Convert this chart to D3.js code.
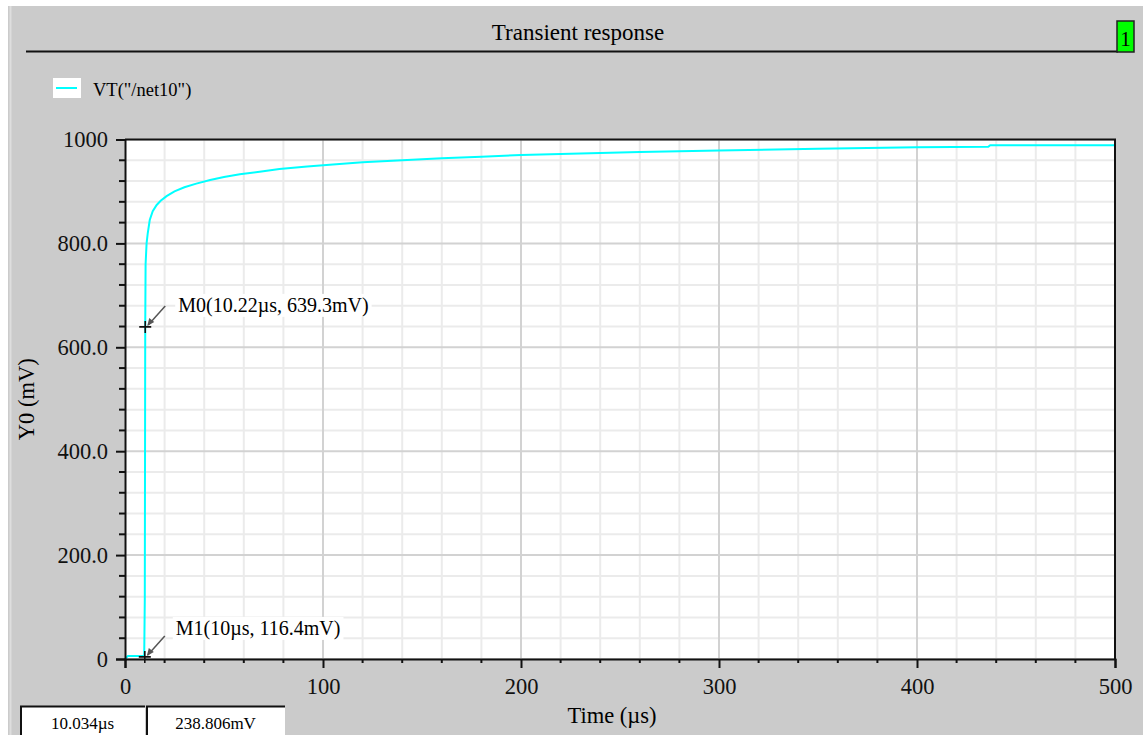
<!DOCTYPE html>
<html>
<head>
<meta charset="utf-8">
<script src="https://cdn.jsdelivr.net/npm/d3@7"></script>
<style>
  body { margin: 0; background: #fff; }
  svg { display: block; font-family: "Liberation Serif", "Times New Roman", serif; }
</style>
</head>
<body>
<svg id="chart"></svg>
<script>
// waveform samples of VT("/net10")
const timeUs = [0, 1.5, 9.7, 10.0, 10.22, 10.4, 10.9, 11.5, 12.5, 14, 16, 18, 21, 25, 30, 36, 43, 50, 58, 68, 78, 92, 105, 120, 140, 160, 180, 200, 230, 260, 300, 350, 400, 436, 437, 500];
const voltMv = [0, 6, 6, 116, 639, 760, 800, 820, 845, 862, 874, 882, 891, 900, 908, 915, 922, 928, 933, 938, 943, 948, 952, 956, 960, 964, 967, 970, 973, 976, 979, 982, 985, 986, 989, 989];

const xTickLabels = ['0', '100', '200', '300', '400', '500'];
const yTickLabels = ['0', '200.0', '400.0', '600.0', '800.0', '1000'];

const markerNames = ['M0', 'M1'];
const markerLabels = ['M0(10.22\u00b5s, 639.3mV)', 'M1(10\u00b5s, 116.4mV)'];
const markerX = [10.22, 10];
const markerY = [639.3, 4];

const cursorReadout = ['10.034\u00b5s', '238.806mV'];

class TransientChart {

    constructor(_config) {
        this.config = {
            parentElement: _config.parentElement,
            containerWidth: 1143,
            containerHeight: 735,
            margin: {top: 139.5, right: 28, bottom: 76, left: 125}
        }
        this.initVis();
    }

    initVis() {
        let vis = this;
        const c = vis.config;

        vis.width = c.containerWidth - c.margin.left - c.margin.right;
        vis.height = c.containerHeight - c.margin.top - c.margin.bottom;

        vis.svg = d3.select(c.parentElement)
            .attr('width', c.containerWidth)
            .attr('height', c.containerHeight);

        // window frame
        vis.svg.append('rect')
            .attr('x', 8).attr('y', 6)
            .attr('width', c.containerWidth - 8).attr('height', c.containerHeight - 6)
            .attr('fill', '#cbcbcb');
        vis.svg.append('line')
            .attr('x1', 10.5).attr('x2', 10.5).attr('y1', 6).attr('y2', c.containerHeight)
            .attr('stroke', '#dedede').attr('stroke-width', 2);

        // title + underline
        vis.svg.append('text')
            .attr('x', 578).attr('y', 40)
            .attr('text-anchor', 'middle')
            .attr('font-size', 23)
            .text('Transient response');
        vis.svg.append('line')
            .attr('x1', 26).attr('x2', 1118).attr('y1', 51.5).attr('y2', 51.5)
            .attr('stroke', '#111').attr('stroke-width', 2);

        // green subwindow tag
        vis.svg.append('rect')
            .attr('x', 1117).attr('y', 21).attr('width', 17).attr('height', 31)
            .attr('fill', '#00ff00').attr('stroke', '#222').attr('stroke-width', 1.5);
        vis.svg.append('text')
            .attr('x', 1125.5).attr('y', 46)
            .attr('text-anchor', 'middle').attr('font-size', 21)
            .text('1');

        // legend
        vis.svg.append('rect')
            .attr('x', 53).attr('y', 78).attr('width', 28).attr('height', 20)
            .attr('fill', '#fff');
        vis.svg.append('line')
            .attr('x1', 56).attr('x2', 77).attr('y1', 88).attr('y2', 88)
            .attr('stroke', '#00ffff').attr('stroke-width', 2);
        vis.svg.append('text')
            .attr('x', 93).attr('y', 96)
            .attr('font-size', 18.5)
            .text('VT("/net10")');

        vis.chart = vis.svg.append('g')
            .attr('transform', `translate(${c.margin.left},${c.margin.top})`);

        vis.xScale = d3.scaleLinear().domain([0, 500]).range([0, vis.width]);
        vis.yScale = d3.scaleLinear().domain([0, 1000]).range([vis.height, 0]);

        vis.chart.append('rect')
            .attr('width', vis.width).attr('height', vis.height)
            .attr('fill', '#fff');

        vis.gridG = vis.chart.append('g').attr('class', 'grid');
        vis.lineG = vis.chart.append('g').attr('class', 'wave');
        vis.frameG = vis.chart.append('g').attr('class', 'frame');
        vis.xAxisG = vis.chart.append('g')
            .attr('class', 'x-axis')
            .attr('transform', `translate(0,${vis.height})`);
        vis.yAxisG = vis.chart.append('g').attr('class', 'y-axis');
        vis.markerG = vis.chart.append('g').attr('class', 'markers');

        vis.updateVis();
    }

    updateVis() {
        let vis = this;
        vis.data = timeUs.map((t, i) => ({t: t, v: voltMv[i]}));
        vis.markers = markerNames.map((m, i) => ({name: m, label: markerLabels[i], t: markerX[i], v: markerY[i]}));
        vis.renderVis();
    }

    renderVis() {
        let vis = this;
        const xMinor = d3.range(0, 501, 20);
        const yMinor = d3.range(0, 1001, 40);
        const xMajor = d3.range(0, 501, 100);
        const yMajor = d3.range(0, 1001, 200);

        // grid
        vis.gridG.selectAll('.vminor')
            .data(xMinor.filter(d => d % 100 !== 0))
            .join('line').attr('class', 'vminor')
            .attr('x1', d => vis.xScale(d)).attr('x2', d => vis.xScale(d))
            .attr('y1', 0).attr('y2', vis.height)
            .attr('stroke', '#ebebeb').attr('stroke-width', 2);
        vis.gridG.selectAll('.hminor')
            .data(yMinor.filter(d => d % 200 !== 0))
            .join('line').attr('class', 'hminor')
            .attr('y1', d => vis.yScale(d)).attr('y2', d => vis.yScale(d))
            .attr('x1', 0).attr('x2', vis.width)
            .attr('stroke', '#ebebeb').attr('stroke-width', 2);
        vis.gridG.selectAll('.vmajor')
            .data(xMajor)
            .join('line').attr('class', 'vmajor')
            .attr('x1', d => vis.xScale(d)).attr('x2', d => vis.xScale(d))
            .attr('y1', 0).attr('y2', vis.height)
            .attr('stroke', '#d2d2d2').attr('stroke-width', 2);
        vis.gridG.selectAll('.hmajor')
            .data(yMajor)
            .join('line').attr('class', 'hmajor')
            .attr('y1', d => vis.yScale(d)).attr('y2', d => vis.yScale(d))
            .attr('x1', 0).attr('x2', vis.width)
            .attr('stroke', '#d2d2d2').attr('stroke-width', 2);

        // waveform
        const line = d3.line()
            .x(d => vis.xScale(d.t))
            .y(d => vis.yScale(d.v));
        vis.lineG.append('path')
            .datum(vis.data)
            .attr('d', line)
            .attr('fill', 'none')
            .attr('stroke', '#00ffff')
            .attr('stroke-width', 2);

        // top/right frame
        vis.frameG.append('path')
            .attr('d', `M0,0H${vis.width}V${vis.height}`)
            .attr('fill', 'none').attr('stroke', '#111').attr('stroke-width', 2);

        // minor ticks
        vis.xAxisG.selectAll('.xminor')
            .data(xMinor.filter(d => d % 100 !== 0))
            .join('line').attr('class', 'xminor')
            .attr('x1', d => vis.xScale(d)).attr('x2', d => vis.xScale(d))
            .attr('y1', 0).attr('y2', 4)
            .attr('stroke', '#111').attr('stroke-width', 2);
        vis.yAxisG.selectAll('.yminor')
            .data(yMinor.filter(d => d % 200 !== 0))
            .join('line').attr('class', 'yminor')
            .attr('y1', d => vis.yScale(d)).attr('y2', d => vis.yScale(d))
            .attr('x1', 0).attr('x2', -6)
            .attr('stroke', '#111').attr('stroke-width', 2);

        vis.xAxis = d3.axisBottom(vis.xScale)
            .tickValues(xMajor)
            .tickSize(9)
            .tickPadding(10)
            .tickFormat((d, i) => xTickLabels[i]);
        vis.yAxis = d3.axisLeft(vis.yScale)
            .tickValues(yMajor)
            .tickSize(9)
            .tickPadding(8)
            .tickFormat((d, i) => yTickLabels[i]);

        vis.xAxisG.call(vis.xAxis)
            .call(g => g.select('.domain').attr('stroke', '#111').attr('stroke-width', 2))
            .call(g => g.selectAll('.tick line').attr('stroke', '#111').attr('stroke-width', 2))
            .call(g => g.selectAll('.tick text')
                .attr('font-family', '"Liberation Serif", serif')
                .attr('font-size', 22.5).attr('fill', '#111'));
        vis.yAxisG.call(vis.yAxis)
            .call(g => g.select('.domain').attr('stroke', '#111').attr('stroke-width', 2))
            .call(g => g.selectAll('.tick line').attr('stroke', '#111').attr('stroke-width', 2))
            .call(g => g.selectAll('.tick text')
                .attr('font-family', '"Liberation Serif", serif')
                .attr('font-size', 22.5).attr('fill', '#111'));

        // axis titles
        vis.chart.append('text')
            .attr('x', vis.width / 2 - 8).attr('y', vis.height + 64)
            .attr('text-anchor', 'middle').attr('font-size', 22.5)
            .text('Time (\u00b5s)');
        vis.chart.append('text')
            .attr('transform', `translate(-91,${vis.height / 2}) rotate(-90)`)
            .attr('text-anchor', 'middle').attr('font-size', 22.5)
            .text('Y0 (mV)');

        // markers with callouts
        const mk = vis.markerG.selectAll('.marker')
            .data(vis.markers)
            .join('g').attr('class', 'marker')
            .attr('transform', d => `translate(${vis.xScale(d.t)},${vis.yScale(d.v)})`);

        mk.append('text')
            .attr('x', d => d.name === 'M0' ? 33 : 31).attr('y', d => d.name === 'M0' ? -15 : -22)
            .attr('font-size', 20)
            .text(d => d.label)
            .each(function() {
                const bb = this.getBBox();
                d3.select(this.parentNode).insert('rect', 'text')
                    .attr('x', bb.x - 3).attr('y', bb.y)
                    .attr('width', bb.width + 6).attr('height', bb.height)
                    .attr('fill', '#fff');
            });

        mk.append('line')
            .attr('x1', 20).attr('y1', -21)
            .attr('x2', 3).attr('y2', -2)
            .attr('stroke', '#555').attr('stroke-width', 1.5);
        mk.append('path')
            .attr('d', 'M2,-1 L4,-9 L9,-5 Z')
            .attr('fill', '#555');

        mk.append('path')
            .attr('d', 'M-6,0H6M0,-6V6')
            .attr('stroke', '#111').attr('stroke-width', 1.6);

        // cursor readout boxes
        const boxX = [20, 146];
        const boxW = [125, 139];
        const ro = vis.svg.selectAll('.readout')
            .data(cursorReadout)
            .join('g').attr('class', 'readout');
        ro.append('rect')
            .attr('x', (d, i) => boxX[i]).attr('y', 706)
            .attr('width', (d, i) => boxW[i]).attr('height', 40)
            .attr('fill', '#fff');
        ro.append('path')
            .attr('d', (d, i) => `M${boxX[i] + 1},735V706.5H${boxX[i] + boxW[i]}`)
            .attr('fill', 'none').attr('stroke', '#111').attr('stroke-width', 2);
        ro.append('text')
            .attr('x', (d, i) => boxX[i] + boxW[i] / 2)
            .attr('y', 729)
            .attr('text-anchor', 'middle').attr('font-size', 17)
            .text(d => d);
    }
}

new TransientChart({parentElement: '#chart'});
</script>
</body>
</html>
